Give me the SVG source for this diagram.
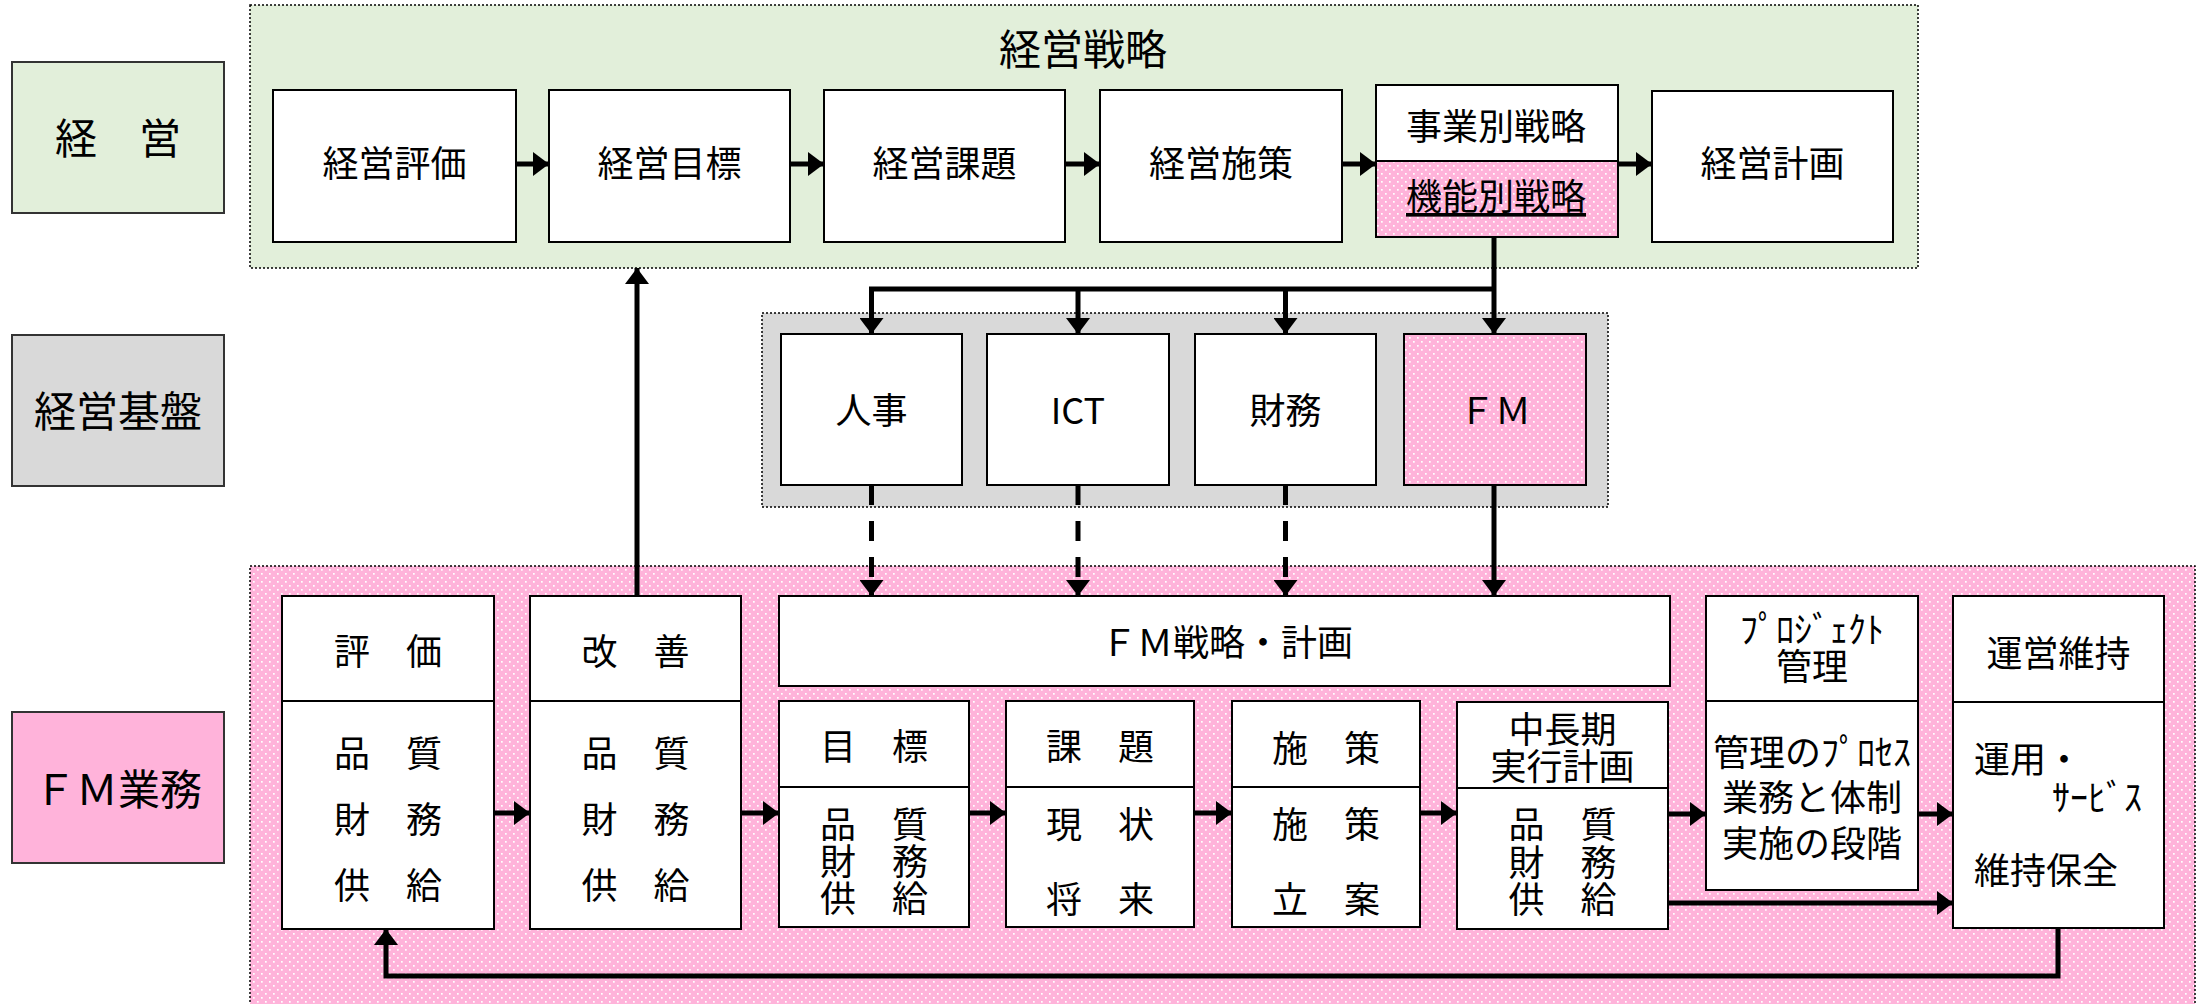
<svg xmlns="http://www.w3.org/2000/svg" width="2197" height="1004" viewBox="0 0 2197 1004">
<style>
.t{font-family:"Noto Sans CJK JP","Noto Sans CJK SC",sans-serif;font-size:36px;fill:#000;text-anchor:middle;dominant-baseline:central}
.s{text-anchor:start}
.lb{font-size:42px}
.box{fill:#fff;stroke:#000;stroke-width:2}
.dotbox{fill:url(#dots);stroke:#000;stroke-width:2}
.div{stroke:#000;stroke-width:2}
.c{fill:none;stroke:#000;stroke-width:5}
.arr{marker-end:url(#ah)}
.dash{stroke-dasharray:20 16}
.cont{stroke:#000;stroke-width:1.5;stroke-dasharray:2 2}
.lab{stroke:#333;stroke-width:2}
</style>
<defs>
<pattern id="dots" width="8" height="8" patternUnits="userSpaceOnUse">
<rect width="8" height="8" fill="#FFB3DA"/>
<rect x="1" y="1" width="1.7" height="1.7" fill="#fff"/>
<rect x="5" y="5" width="1.7" height="1.7" fill="#fff"/>
</pattern>
<marker id="ah" markerUnits="userSpaceOnUse" markerWidth="16" markerHeight="24" refX="16" refY="12" orient="auto">
<path d="M0,0 L16,12 L0,24 Z" fill="#000"/>
</marker>
</defs>
<rect width="2197" height="1004" fill="#fff"/>

<g id="container-keiei-senryaku">
<rect class="cont" x="250" y="5" width="1668" height="263" fill="#E2EFDA"/>
<text class="t lb" x="1083" y="46">経営戦略</text>
</g>
<g id="container-keiei-kiban">
<rect class="cont" x="762" y="313" width="846" height="194" fill="#D9D9D9"/>
</g>
<g id="container-fm-gyomu">
<rect class="cont" x="250" y="566" width="1945" height="445" fill="url(#dots)"/>
</g>

<g id="label-keiei"><rect class="lab" x="12" y="62" width="212" height="151" fill="#E2EFDA"/><text class="t lb" x="118" y="135">経　営</text></g>
<g id="label-keiei-kiban"><rect class="lab" x="12" y="335" width="212" height="151" fill="#D9D9D9"/><text class="t lb" x="118" y="408">経営基盤</text></g>
<g id="label-fm-gyomu"><rect class="lab" x="12" y="712" width="212" height="151" fill="#FFB3DA"/><text class="t lb" x="118" y="786">ＦＭ業務</text></g>

<g id="n-keiei-hyoka"><rect class="box" x="273" y="90" width="243" height="152"/><text class="t" x="394.5" y="161">経営評価</text></g>
<g id="n-keiei-mokuhyo"><rect class="box" x="549" y="90" width="241" height="152"/><text class="t" x="669.5" y="161">経営目標</text></g>
<g id="n-keiei-kadai"><rect class="box" x="824" y="90" width="241" height="152"/><text class="t" x="944.5" y="161">経営課題</text></g>
<g id="n-keiei-shisaku"><rect class="box" x="1100" y="90" width="242" height="152"/><text class="t" x="1221" y="161">経営施策</text></g>
<g id="n-senryaku">
<rect class="box" x="1376" y="85" width="242" height="76"/>
<rect class="dotbox" x="1376" y="161" width="242" height="76"/>
<text class="t" x="1496" y="124">事業別戦略</text>
<text class="t" x="1496" y="194" text-decoration="underline">機能別戦略</text>
</g>
<g id="n-keiei-keikaku"><rect class="box" x="1652" y="91" width="241" height="151"/><text class="t" x="1772.5" y="161">経営計画</text></g>

<g id="n-jinji"><rect class="box" x="781" y="334" width="181" height="151"/><text class="t" x="871.5" y="408">人事</text></g>
<g id="n-ict"><rect class="box" x="987" y="334" width="182" height="151"/><text class="t" x="1078" y="408">ICT</text></g>
<g id="n-zaimu"><rect class="box" x="1195" y="334" width="181" height="151"/><text class="t" x="1285.5" y="408">財務</text></g>
<g id="n-fm"><rect class="dotbox" x="1404" y="334" width="182" height="151"/><text class="t" x="1495" y="408">ＦＭ</text></g>

<g id="n-hyoka">
<rect class="box" x="282" y="596" width="212" height="333"/><line class="div" x1="282" y1="701" x2="494" y2="701"/>
<text class="t" x="388" y="649">評　価</text>
<text class="t" x="388" y="751"><tspan x="388" y="751">品　質</tspan><tspan x="388" y="817">財　務</tspan><tspan x="388" y="883">供　給</tspan></text>
</g>
<g id="n-kaizen">
<rect class="box" x="530" y="596" width="211" height="333"/><line class="div" x1="530" y1="701" x2="741" y2="701"/>
<text class="t" x="635.5" y="649">改　善</text>
<text class="t" x="635.5" y="751"><tspan x="635.5" y="751">品　質</tspan><tspan x="635.5" y="817">財　務</tspan><tspan x="635.5" y="883">供　給</tspan></text>
</g>
<g id="n-fm-senryaku"><rect class="box" x="779" y="596" width="891" height="90"/><text class="t" x="1227" y="640">ＦＭ戦略・計画</text></g>
<g id="n-mokuhyo">
<rect class="box" x="779" y="701" width="190" height="226"/><line class="div" x1="779" y1="787" x2="969" y2="787"/>
<text class="t" x="874" y="744">目　標</text>
<text class="t" x="874" y="822"><tspan x="874" y="822">品　質</tspan><tspan x="874" y="859">財　務</tspan><tspan x="874" y="896">供　給</tspan></text>
</g>
<g id="n-kadai">
<rect class="box" x="1006" y="701" width="188" height="226"/><line class="div" x1="1006" y1="787" x2="1194" y2="787"/>
<text class="t" x="1100" y="744">課　題</text>
<text class="t" x="1100" y="822"><tspan x="1100" y="822">現　状</tspan><tspan x="1100" y="897">将　来</tspan></text>
</g>
<g id="n-shisaku">
<rect class="box" x="1232" y="701" width="188" height="226"/><line class="div" x1="1232" y1="787" x2="1420" y2="787"/>
<text class="t" x="1326" y="746">施　策</text>
<text class="t" x="1326" y="822"><tspan x="1326" y="822">施　策</tspan><tspan x="1326" y="897">立　案</tspan></text>
</g>
<g id="n-chuchoki">
<rect class="box" x="1457" y="702" width="211" height="227"/><line class="div" x1="1457" y1="788" x2="1668" y2="788"/>
<text class="t" x="1562.5" y="727"><tspan x="1562.5" y="727">中長期</tspan><tspan x="1562.5" y="764">実行計画</tspan></text>
<text class="t" x="1562.5" y="822"><tspan x="1562.5" y="822">品　質</tspan><tspan x="1562.5" y="860">財　務</tspan><tspan x="1562.5" y="897">供　給</tspan></text>
</g>
<g id="n-project">
<rect class="box" x="1706" y="596" width="212" height="294"/><line class="div" x1="1706" y1="701" x2="1918" y2="701"/>
<text class="t" x="1812" y="627"><tspan x="1812" y="627">ﾌﾟﾛｼﾞｪｸﾄ</tspan><tspan x="1812" y="664">管理</tspan></text>
<text class="t" x="1812" y="750"><tspan x="1812" y="750">管理のﾌﾟﾛｾｽ</tspan><tspan x="1812" y="795">業務と体制</tspan><tspan x="1812" y="841">実施の段階</tspan></text>
</g>
<g id="n-unei">
<rect class="box" x="1953" y="596" width="211" height="332"/><line class="div" x1="1953" y1="702" x2="2164" y2="702"/>
<text class="t" x="2058.5" y="651">運営維持</text>
<text class="t s" x="1974" y="757"><tspan x="1974" y="757">運用・</tspan><tspan x="2052" y="795">ｻｰﾋﾞｽ</tspan></text>
<text class="t s" x="1974" y="868">維持保全</text>
</g>

<g id="connectors">
<path class="c arr" d="M516,164 H549"/>
<path class="c arr" d="M790,164 H824"/>
<path class="c arr" d="M1065,164 H1100"/>
<path class="c arr" d="M1342,164 H1376"/>
<path class="c arr" d="M1618,164 H1652"/>
<path class="c arr" d="M1494,237 V334"/>
<path class="c" d="M869,289 H1496"/>
<path class="c arr" d="M871.5,289 V334"/>
<path class="c arr" d="M1078,289 V334"/>
<path class="c arr" d="M1285.5,289 V334"/>
<path class="c arr dash" d="M871.5,485 V596"/>
<path class="c arr dash" d="M1078,485 V596"/>
<path class="c arr dash" d="M1285.5,485 V596"/>
<path class="c arr" d="M1494,485 V596"/>
<path class="c arr" d="M637,596 V268"/>
<path class="c arr" d="M494,813 H530"/>
<path class="c arr" d="M741,813 H779"/>
<path class="c arr" d="M969,813 H1006"/>
<path class="c arr" d="M1194,813 H1232"/>
<path class="c arr" d="M1420,813 H1457"/>
<path class="c arr" d="M1668,814 H1706"/>
<path class="c arr" d="M1918,814 H1953"/>
<path class="c arr" d="M1668,903 H1953"/>
<path class="c arr" d="M2058,928 V976 H386 V929"/>
</g>
</svg>
